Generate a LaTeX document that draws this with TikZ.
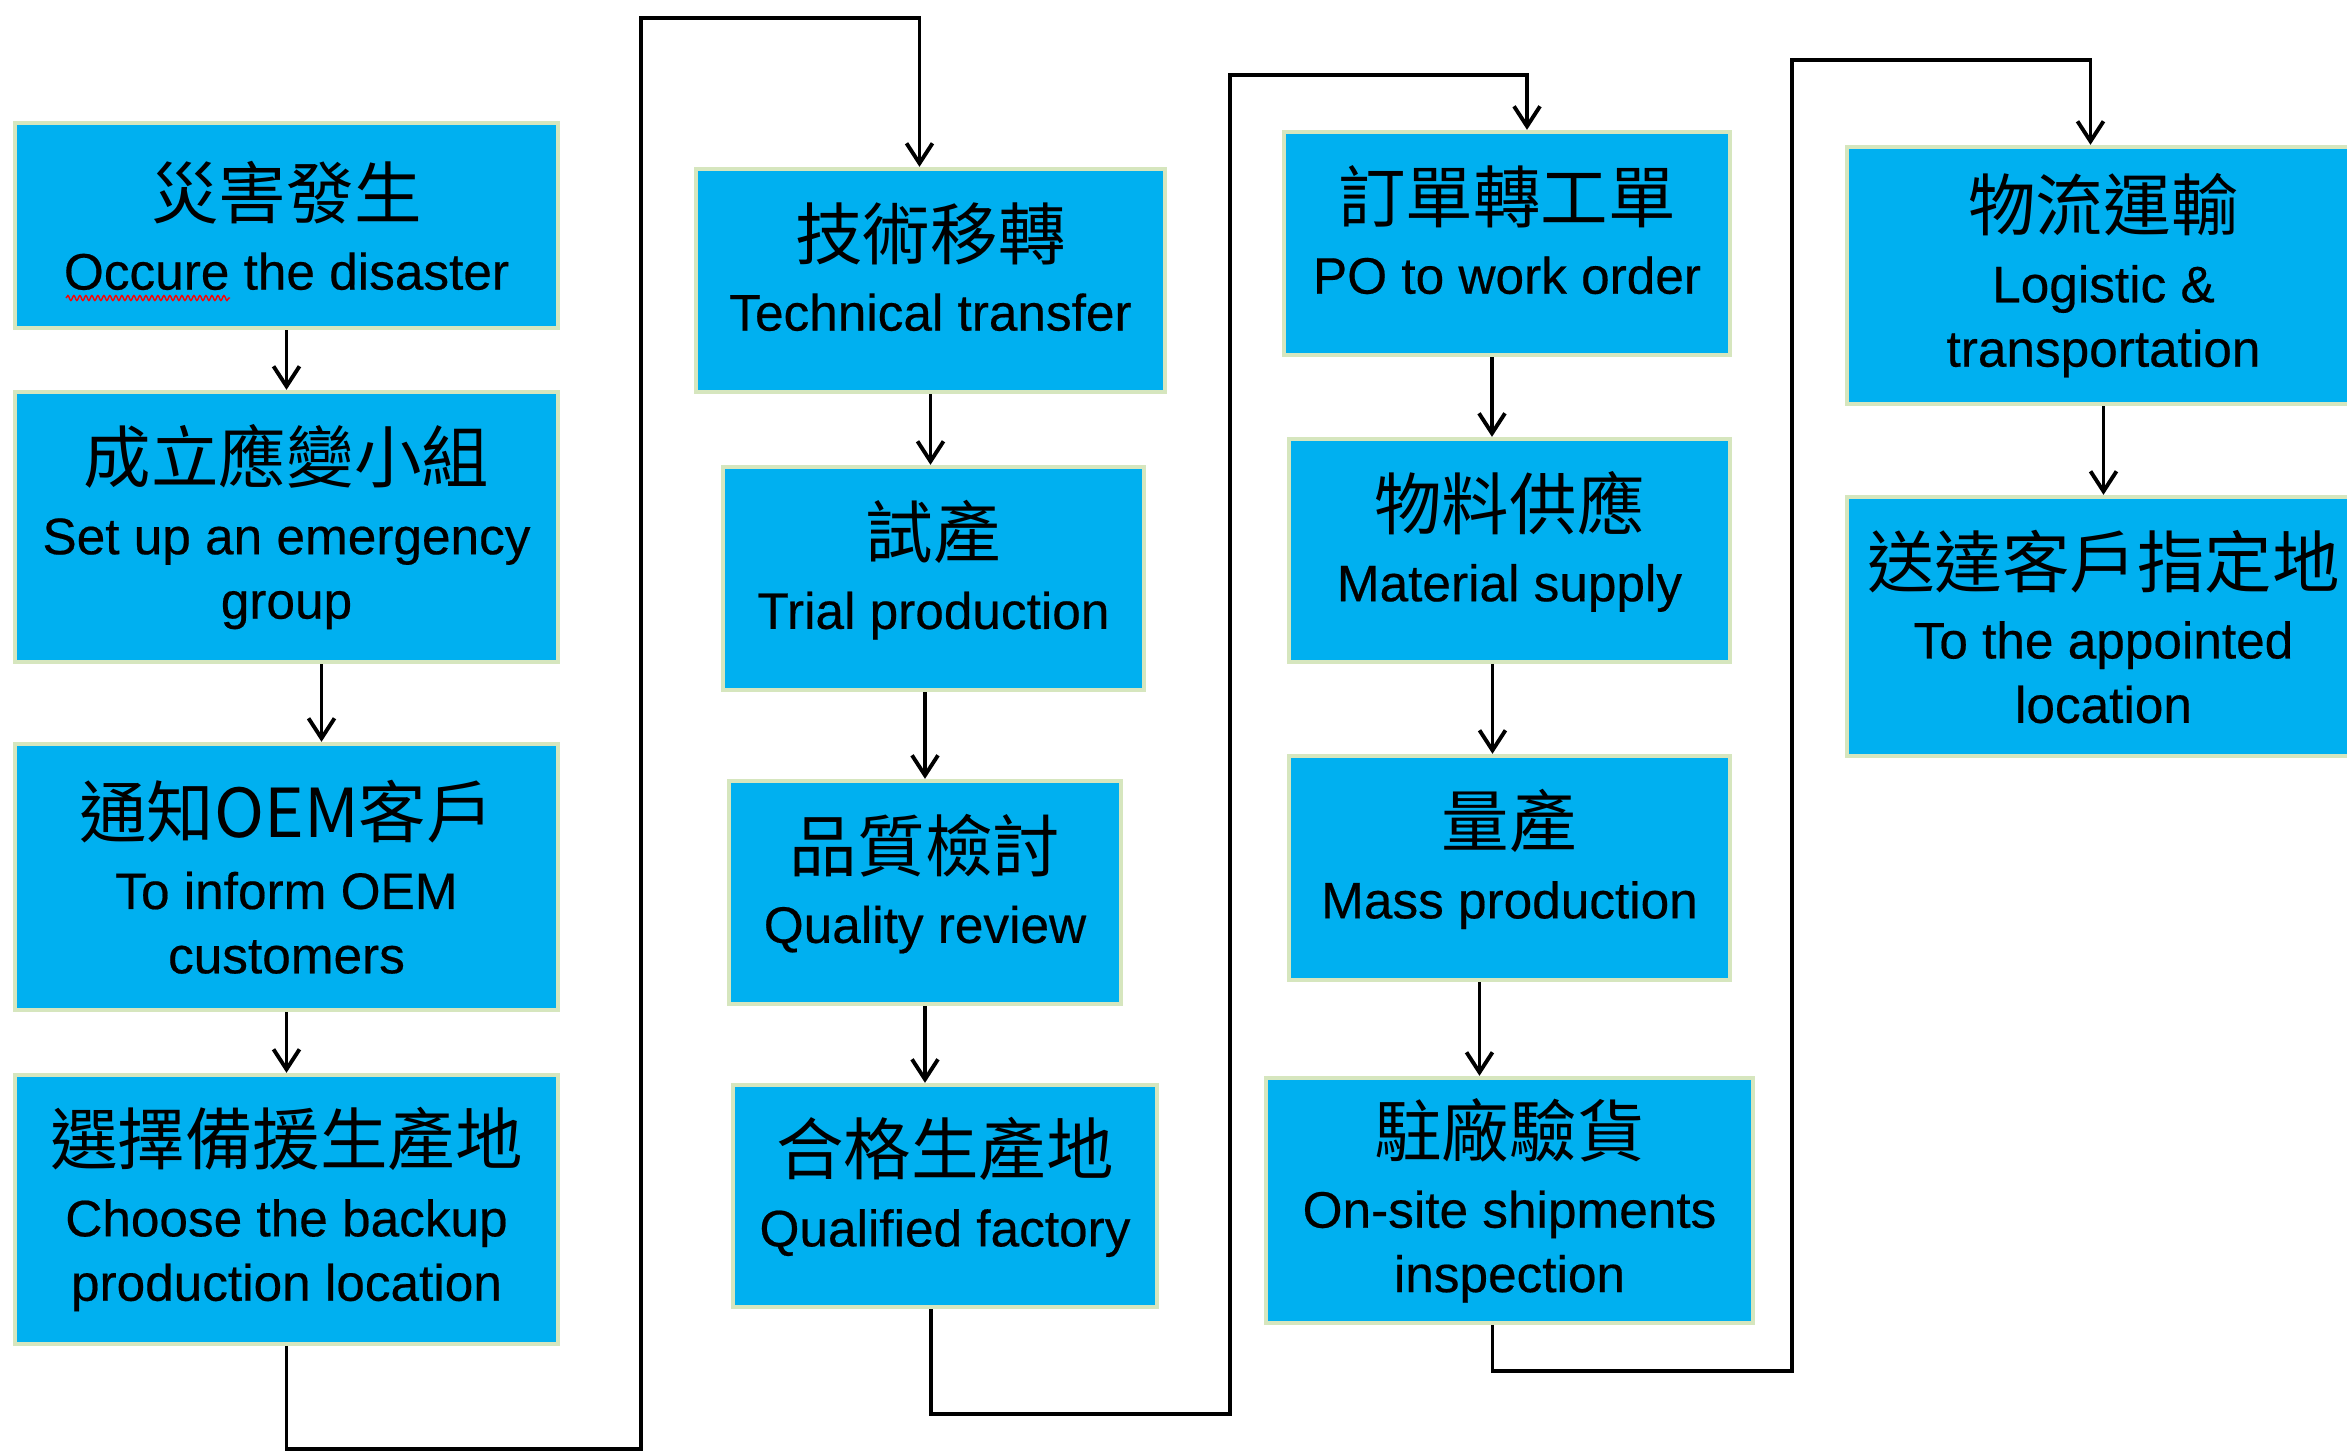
\documentclass[tikz,border=0pt]{standalone}
\usepackage{fontspec}
\setmainfont{Liberation Sans}[FakeBold=0.4]
\newfontfamily\cjk{Noto Sans CJK TC}
\usetikzlibrary{arrows.meta,decorations.pathmorphing}
\definecolor{boxblue}{RGB}{0,176,240}
\definecolor{boxedge}{RGB}{214,230,190}
\newcommand{\zh}[1]{{\cjk\fontsize{19.2}{18}\selectfont #1}\\[2pt]}
\tikzset{
	flowbox/.style={draw=boxedge, fill=boxblue, line width=1.2pt, align=center, inner sep=0pt, font=\fontsize{14.6}{18.3}\selectfont},
	shortbox/.style={flowbox, text depth=0.28cm},
	flowline/.style={line width=1.1pt, -{Straight Barb[length=2mm, width=2.6mm, line width=1.1pt]}},
	spellmark/.style={red, line width=0.4pt, decorate, decoration={snake, amplitude=0.025cm, segment length=0.06cm}}
}
\begin{document}
\begin{tikzpicture}[x=0.01cm, y=-0.01cm]
		\useasboundingbox (0,0) rectangle (2347,1453);
		% first column
		\node[flowbox, minimum width=5.43cm, minimum height=2.05cm] (b1) at (286.5,225.5) {\zh{災害發生}Occure the disaster};
		\node[flowbox, minimum width=5.43cm, minimum height=2.70cm] (b2) at (286.5,527) {\zh{成立應變小組}Set up an emergency\\group};
		\node[flowbox, minimum width=5.43cm, minimum height=2.66cm] (b3) at (286.5,877) {\zh{通知OEM客戶}To inform OEM\\customers};
		\node[flowbox, minimum width=5.43cm, minimum height=2.69cm] (b4) at (286.5,1209.5) {\zh{選擇備援生產地}Choose the backup\\production location};
		% second column
		\node[shortbox, minimum width=4.69cm, minimum height=2.23cm] (b5) at (930.5,280.5) {\zh{技術移轉}Technical transfer};
		\node[shortbox, minimum width=4.21cm, minimum height=2.23cm] (b6) at (933.5,578.5) {\zh{試產}Trial production};
		\node[shortbox, minimum width=3.92cm, minimum height=2.23cm] (b7) at (925,892.5) {\zh{品質檢討}Quality review};
		\node[shortbox, minimum width=4.24cm, minimum height=2.22cm] (b8) at (945,1196) {\zh{合格生產地}Qualified factory};
		% third column
		\node[shortbox, minimum width=4.46cm, minimum height=2.23cm] (b9) at (1507,243.5) {\zh{訂單轉工單}PO to work order};
		\node[shortbox, minimum width=4.41cm, minimum height=2.23cm] (b10) at (1509.5,550.5) {\zh{物料供應}Material supply};
		\node[shortbox, minimum width=4.41cm, minimum height=2.24cm] (b11) at (1509.5,868) {\zh{量產}Mass production};
		\node[flowbox, minimum width=4.87cm, minimum height=2.45cm] (b12) at (1509.5,1200.5) {\zh{駐廠驗貨}On-site shipments\\inspection};
		% fourth column
		\node[flowbox, minimum width=5.13cm, minimum height=2.57cm] (b13) at (2103.5,275.5) {\zh{物流運輸}Logistic \&\\transportation};
		\node[flowbox, minimum width=5.13cm, minimum height=2.59cm] (b14) at (2103.5,626.5) {\zh{送達客戶指定地}To the appointed\\location};
		% spelling mark under Occure
		\draw[spellmark] (66,298) -- (230,298);
		% turning points
		\coordinate (lowA) at (641,1449);
		\coordinate (topA) at (641,18);
		\coordinate (lowB) at (1230,1414);
		\coordinate (topB) at (1230,75);
		\coordinate (lowC) at (1792,1371);
		\coordinate (topC) at (1792,60);
		% arrows
		\draw[flowline] (b1) -- (b1 |- b2.north);
		\draw[flowline] ([xshift=0.35cm]b2.south) -- ([xshift=0.35cm]b3.north);
		\draw[flowline] (b3) -- (b3 |- b4.north);
		\draw[flowline] (b4.south) |- (lowA) -- (topA) -| ([xshift=-0.11cm]b5.north);
		\draw[flowline] (b5) -- (b5 |- b6.north);
		\draw[flowline] (b6.south -| b7.north) -- (b7.north);
		\draw[flowline] (b7) -- (b7 |- b8.north);
		\draw[flowline] ([xshift=-0.14cm]b8.south) |- (lowB) -- (topB) -| ([xshift=0.2cm]b9.north);
		\draw[flowline] ([xshift=-0.15cm]b9.south) -- ([xshift=-0.15cm]b9.south |- b10.north);
		\draw[flowline] ([xshift=-0.17cm]b10.south) -- ([xshift=-0.17cm]b11.north);
		\draw[flowline] ([xshift=-0.3cm]b11.south) -- ([xshift=-0.3cm]b11.south |- b12.north);
		\draw[flowline] ([xshift=-0.17cm]b12.south) |- (lowC) -- (topC) -| ([xshift=-0.13cm]b13.north);
		\draw[flowline] (b13) -- (b13 |- b14.north);
\end{tikzpicture}
\end{document}
